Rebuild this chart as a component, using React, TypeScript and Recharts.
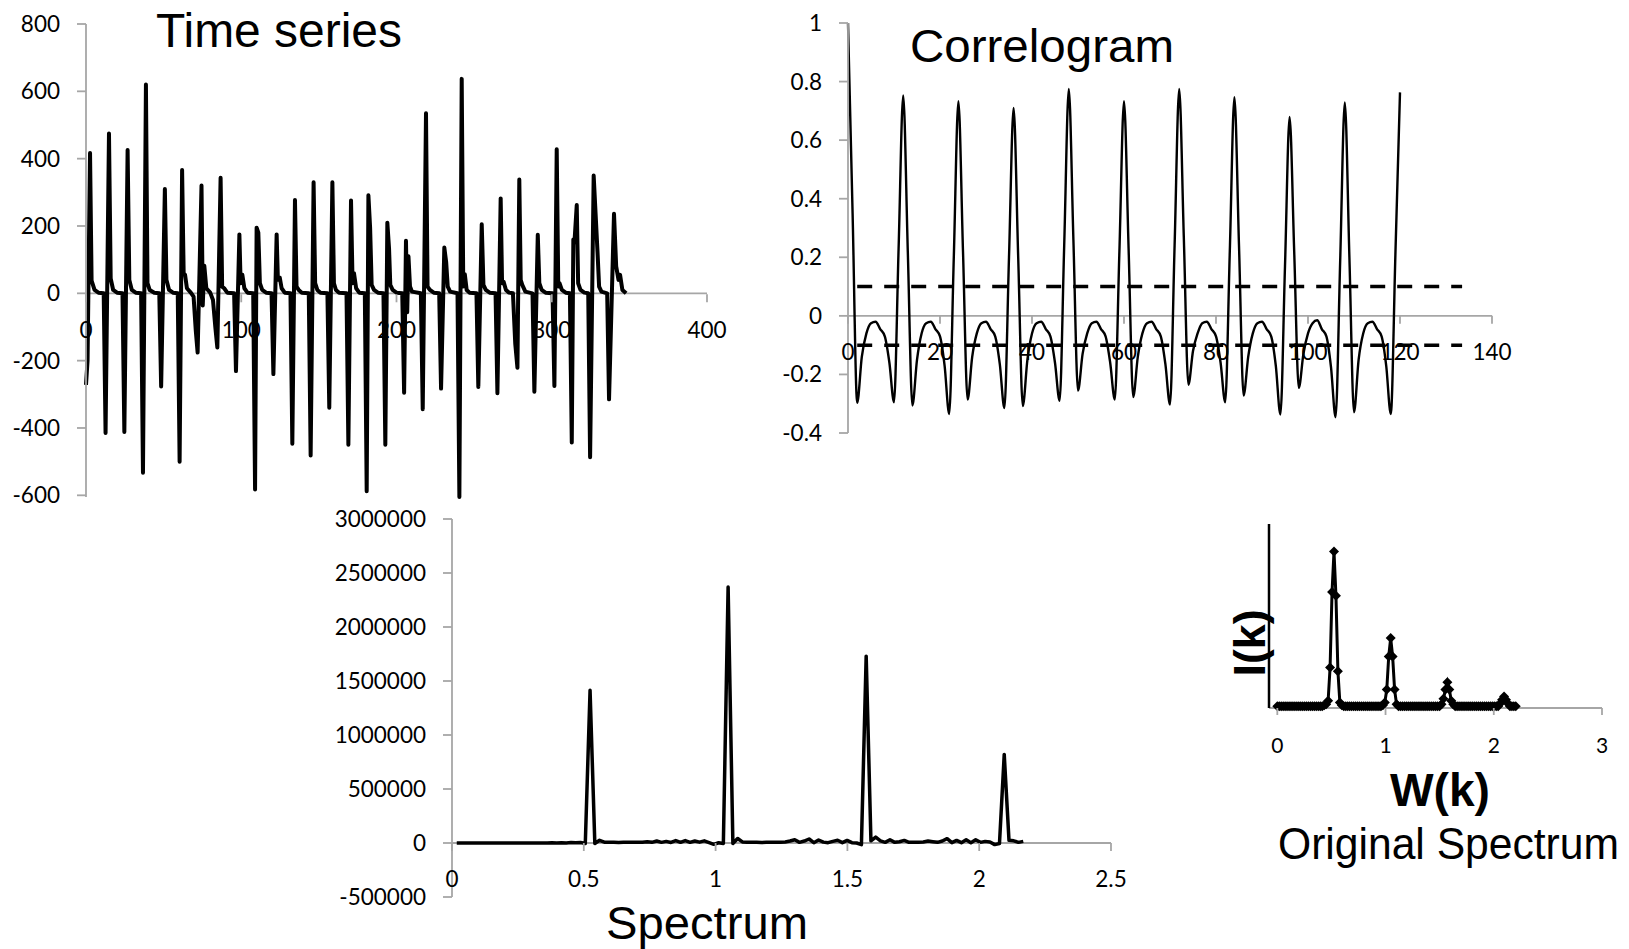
import React from 'react'
import { Line, LineChart, ReferenceLine, XAxis, YAxis } from 'recharts'

// time series, [t, value] turning points
const seriesPoints: [number, number][] = [
  [0, -272], [1, -200], [2.6, 417], [3.6, 38], [5.5, 10], [8, 2], [11.4, 0],
  [12.6, -415], [14.8, 475], [15.9, 44], [17.5, 10], [20, 2], [23.5, 0],
  [24.7, -412], [26.8, 426], [27.9, 40], [29.5, 10], [32, 2], [35.5, 0],
  [36.7, -533], [38.6, 620], [39.6, 30], [41, 10], [44, 2], [47.2, 0],
  [48.4, -277], [50.8, 310], [51.8, 40], [53.5, 10], [56, 2], [59.1, 0],
  [60.3, -500], [61.9, 366], [62.9, 60], [63.8, 55], [65, 15], [67.5, 2], [69.3, -10],
  [70.7, -110], [71.9, -176], [74.4, 320], [75.2, -36], [76.2, 82], [77.5, 15], [80, 2], [81.8, -20],
  [83.3, -100], [84.6, -161], [86.7, 343], [87.7, 20], [89, 15], [91, 2], [95.4, 0],
  [96.6, -231], [98.8, 175], [99.6, 30], [100.7, 55], [102, 15], [104, 2], [107.7, 0],
  [108.9, -583], [109.9, 195], [111, 180], [112, 30], [113.5, 10], [116, 2], [119.5, 0],
  [120.7, -240], [122.8, 175], [123.6, 40], [124.8, 47], [126, 15], [128, 2], [131.7, 0],
  [132.9, -447], [134.6, 277], [135.6, 20], [137, 10], [139, 2], [143.5, 0],
  [144.7, -482], [146.6, 330], [147.6, 30], [149, 10], [151, 2], [155.5, 0],
  [156.7, -340], [158.7, 330], [159.7, 30], [161, 10], [163, 2], [167.8, 0],
  [169, -450], [170.7, 276], [171.7, 30], [172.6, 60], [174, 15], [176, 2], [179.6, 0],
  [180.8, -588], [181.9, 291], [183, 195], [184, 25], [185.5, 10], [188, 2], [191.6, 0],
  [192.8, -450], [194.1, 210], [195.2, 133], [196, 25], [197.5, 10], [200, 2], [203.7, 0],
  [204.9, -295], [206.1, 156], [206.9, -56], [207.7, 110], [208.7, 20], [210, 5], [215.7, 0],
  [216.9, -344], [219, 535], [220, 20], [221.5, 10], [224, 2], [227.5, 0],
  [228.7, -283], [230.8, 136], [232, 92], [233, 20], [234.5, 5], [239.3, 0],
  [240.5, -605], [242, 637], [243, 20], [244, 57], [245.2, 10], [247, 2], [251.5, 0],
  [252.7, -278], [254.9, 205], [256, 25], [257.5, 10], [260, 2], [263.8, 0],
  [265, -297], [267.1, 282], [268, 30], [269, 34], [270.5, 10], [272.5, 2], [275, 0],
  [276.5, -150], [277.9, -221], [279.1, 338], [280, 40], [281, 25], [283, 5], [287.6, 0],
  [288.8, -292], [291, 174], [292, 30], [293.5, 10], [296, 2], [300.5, 0],
  [301.7, -275], [303.2, 428], [304.2, 20], [305, 30], [306.5, 10], [309, 2], [311.7, 0],
  [312.9, -443], [313.9, 160], [314.6, 150], [316.1, 262], [317, 30], [318.5, 10], [321, 2], [323.5, 0],
  [324.7, -487], [327, 350], [329.5, 121], [330.5, 20], [332, 5], [335.7, 0],
  [336.9, -315], [340.1, 236], [341.5, 80], [343, 40], [344, 55], [345.5, 10], [347.9, 0],
]

// correlogram, lag 0..120
const acf = [
  1, 0.35, -0.297, -0.14, -0.06, -0.025, -0.02, -0.045, -0.07, -0.16, -0.295, 0.23,
  0.753, 0.22, -0.306, -0.15, -0.06, -0.025, -0.02, -0.045, -0.07, -0.17, -0.335, 0.2,
  0.733, 0.22, -0.286, -0.14, -0.06, -0.025, -0.02, -0.045, -0.07, -0.165, -0.315, 0.2,
  0.71, 0.2, -0.308, -0.15, -0.06, -0.025, -0.02, -0.045, -0.07, -0.16, -0.29, 0.24,
  0.775, 0.26, -0.255, -0.13, -0.06, -0.025, -0.02, -0.045, -0.07, -0.16, -0.286, 0.22,
  0.733, 0.23, -0.277, -0.14, -0.06, -0.025, -0.02, -0.045, -0.07, -0.165, -0.303, 0.24,
  0.775, 0.27, -0.235, -0.12, -0.06, -0.025, -0.02, -0.045, -0.07, -0.16, -0.295, 0.22,
  0.747, 0.24, -0.272, -0.14, -0.06, -0.025, -0.02, -0.045, -0.07, -0.17, -0.337, 0.17,
  0.679, 0.22, -0.246, -0.13, -0.06, -0.025, -0.015, -0.045, -0.07, -0.175, -0.346, 0.19,
  0.729, 0.2, -0.329, -0.15, -0.06, -0.025, -0.02, -0.045, -0.07, -0.17, -0.335, 0.21,
  0.763,
]
const bandLags = [2, 133.5]
const bandLevel = 0.1

// Fourier frequency spacing (2*pi/348)
const FREQ_STEP = 0.01806

// spectrum, k = 1..120, in thousands
const spectrumK = [
  0, 0, 0, 0, 0, 0, 0, 0, 0, 0,
  0, 0, 0, 0, 0, 0, 0, 0, 0, 0,
  2, 1, 3, 1, 4, 2, 5, -5, 1415, -5,
  25, 8, 6, 6, 5, 6, 6, 8, 6, 8,
  12, 6, 18, 6, 15, 5, 22, 6, 22, 6,
  18, 8, 20, 4, -12, 2, -5, 2370, -5, 42,
  10, 6, 6, 6, 5, 6, 6, 6, 8, 10,
  18, 30, 6, 18, 37, 3, 28, 8, 3, 15,
  25, 3, 24, 3, 0, -15, 1730, 20, 55, 20,
  6, 30, 6, 12, 24, 6, 6, 8, 10, 18,
  12, 6, 18, 40, 3, 24, 3, 30, 3, 30,
  6, 15, 10, -15, -5, 820, 25, 20, 6, 15,
]

// original spectrum, k = 0..122
const originalPower = [
  1, 1, 1, 1, 1, 1, 1, 1, 1, 1,
  1, 1, 1, 1, 1, 1, 1, 1, 1, 1,
  1, 1, 1, 1, 1.5, 2, 4, 22, 63, 85,
  61, 20, 3, 1.5, 1, 1, 1, 1, 1, 1,
  1, 1, 1, 1, 1, 1, 1, 1, 1, 1,
  1, 1, 1, 1, 1.5, 3, 10, 28, 38, 28,
  10, 2, 1, 1, 1, 1, 1, 1, 1, 1,
  1, 1, 1, 1, 1, 1, 1, 1, 1, 1,
  1, 1, 1, 1, 2, 5, 10, 14, 10, 4,
  2, 1, 1, 1, 1, 1, 1, 1, 1, 1,
  1, 1, 1, 1, 1, 1, 1, 1, 1, 1,
  1, 1, 1, 1, 2.5, 4.5, 6.2, 4.5, 2.5, 1,
  1, 1, 1,
]

const tsXTicks = [0, 100, 200, 300, 400]
const tsYTicks = [-600, -400, -200, 0, 200, 400, 600, 800]
const acfXTicks = [0, 20, 40, 60, 80, 100, 120, 140]
const acfYTicks = [-0.4, -0.2, 0, 0.2, 0.4, 0.6, 0.8, 1]
const specXTicks = [0, 0.5, 1, 1.5, 2, 2.5]
const specYTicks = [-500000, 0, 500000, 1000000, 1500000, 2000000, 2500000, 3000000]
const origXTicks = [0, 1, 2, 3]

const tsData = seriesPoints.map(([x, y]) => ({ x, y }))
const acfData = acf.map((y, lag) => ({ x: lag, y }))
const upperBand = bandLags.map((x) => ({ x, y: bandLevel }))
const lowerBand = bandLags.map((x) => ({ x, y: -bandLevel }))
const spectrumData = spectrumK.map((v, i) => ({ x: (i + 1) * FREQ_STEP, y: v * 1000 }))
const originalData = originalPower.map((y, k) => ({ x: k * FREQ_STEP, y }))

const GREY = '#A6A6A6'
const TICK_FONT = 'Lato, "Open Sans", sans-serif'
const TITLE_FONT = '"Liberation Sans", Arial, sans-serif'

// x ticks drawn on the zero line instead of the bottom of the plot
const crossingTick = (shift: number, labelDy: number, fontSize: number, tickLen = 8) => (props: any) => {
  const { x, y, payload } = props
  const y0 = y - shift
  return (
    <g>
      <line x1={x} x2={x} y1={y0} y2={y0 + tickLen} stroke={GREY} strokeWidth={1.8} />
      <text x={x} y={y0 + labelDy} textAnchor="middle" fontFamily={TICK_FONT} fontSize={fontSize} fill="#000">
        {payload.value}
      </text>
    </g>
  )
}

const yTickStyle = { fontFamily: TICK_FONT, fontSize: 22.5, fill: '#000' }
const greyLine = { stroke: GREY, strokeWidth: 1.8 }

const diamond = (p: any) => {
  const { cx, cy, index } = p
  const r = 5
  return <path key={`dm-${index}`} d={`M${cx},${cy - r}L${cx + r},${cy}L${cx},${cy + r}L${cx - r},${cy}Z`} fill="#000" />
}

const at = (left: number, top: number): React.CSSProperties => ({ position: 'absolute', left, top })

export default function App() {
  // plot heights, used to put the x ticks on the zero line
  const tsShift = 473 * (600 / 1400)
  const acfShift = 410 * (0.4 / 1.4)
  const specShift = 378 * (500000 / 3500000)

  return (
    <div style={{ position: 'absolute', left: 0, top: 0, width: 1629, height: 949, background: '#fff', overflow: 'hidden' }}>
      <div style={at(0, 0)}>
        <LineChart width={740} height={540} data={tsData} margin={{ top: 24, right: 33, bottom: 0, left: 0 }}>
          <ReferenceLine y={0} stroke={GREY} strokeWidth={1.8} />
          <XAxis dataKey="x" type="number" domain={[0, 400]} ticks={tsXTicks} interval={0} height={43}
            axisLine={false} tickLine={false} tickSize={0} tickMargin={0} tick={crossingTick(tsShift, 44, 22.5)} />
          <YAxis type="number" domain={[-600, 800]} ticks={tsYTicks} interval={0} width={86}
            axisLine={greyLine} tickLine={greyLine} tickSize={9} tickMargin={17} tick={yTickStyle} />
          <Line dataKey="y" type="linear" stroke="#000" strokeWidth={4} dot={false} activeDot={false}
            strokeLinejoin="round" isAnimationActive={false} />
        </LineChart>
      </div>

      <div style={at(760, 0)}>
        <LineChart width={780} height={480} data={acfData} margin={{ top: 23, right: 48, bottom: 0, left: 0 }}>
          <ReferenceLine y={0} stroke={GREY} strokeWidth={1.8} />
          <XAxis dataKey="x" type="number" domain={[0, 140]} ticks={acfXTicks} interval={0} height={47}
            axisLine={false} tickLine={false} tickSize={0} tickMargin={0} tick={crossingTick(acfShift, 44, 22.5)} />
          <YAxis type="number" domain={[-0.4, 1]} ticks={acfYTicks} interval={0} width={88}
            axisLine={greyLine} tickLine={greyLine} tickSize={9} tickMargin={17} tick={yTickStyle} />
          <Line dataKey="y" type="monotone" stroke="#000" strokeWidth={2.4} dot={false} activeDot={false}
            isAnimationActive={false} />
          <Line data={upperBand} dataKey="y" type="linear" stroke="#000" strokeWidth={3.5} strokeDasharray="15 12"
            dot={false} activeDot={false} isAnimationActive={false} />
          <Line data={lowerBand} dataKey="y" type="linear" stroke="#000" strokeWidth={3.5} strokeDasharray="15 12"
            dot={false} activeDot={false} isAnimationActive={false} />
        </LineChart>
      </div>

      <div style={at(300, 490)}>
        <LineChart width={840} height={459} data={spectrumData} margin={{ top: 29, right: 29, bottom: 0, left: 0 }}>
          <ReferenceLine y={0} stroke={GREY} strokeWidth={1.8} />
          <XAxis dataKey="x" type="number" domain={[0, 2.5]} ticks={specXTicks} interval={0} height={52}
            axisLine={false} tickLine={false} tickSize={0} tickMargin={0} tick={crossingTick(specShift, 44, 22.5)} />
          <YAxis type="number" domain={[-500000, 3000000]} ticks={specYTicks} interval={0} width={152}
            axisLine={greyLine} tickLine={greyLine} tickSize={9} tickMargin={17} tick={yTickStyle} />
          <Line dataKey="y" type="linear" stroke="#000" strokeWidth={3.5} dot={false} activeDot={false}
            strokeLinejoin="round" isAnimationActive={false} />
        </LineChart>
      </div>

      <div style={at(1200, 500)}>
        <LineChart width={429} height={280} data={originalData} margin={{ top: 24, right: 27, bottom: 0, left: 0 }}>
          <XAxis dataKey="x" type="number" domain={[-0.0768, 3]} ticks={origXTicks} interval={0} height={72}
            axisLine={greyLine} tickLine={false} tickSize={0} tickMargin={0} tick={crossingTick(0, 45, 21, 7)} />
          <YAxis type="number" domain={[0, 100]} width={69} tick={false} tickLine={false}
            axisLine={{ stroke: '#000', strokeWidth: 2.5 }} />
          <Line dataKey="y" type="linear" stroke="#000" strokeWidth={3} dot={diamond} activeDot={false}
            isAnimationActive={false} />
        </LineChart>
      </div>

      <svg width={1629} height={949} style={{ position: 'absolute', left: 0, top: 0, pointerEvents: 'none' }}>
        <g fontFamily={TITLE_FONT} fill="#000">
          <text x={156} y={47} fontSize={48} textLength={246} lengthAdjust="spacingAndGlyphs">Time series</text>
          <text x={910} y={62} fontSize={47} textLength={264} lengthAdjust="spacingAndGlyphs">Correlogram</text>
          <text x={606} y={939} fontSize={47} textLength={202} lengthAdjust="spacingAndGlyphs">Spectrum</text>
          <text x={1390} y={806} fontSize={46} fontWeight="bold" textLength={100} lengthAdjust="spacingAndGlyphs">W(k)</text>
          <text x={1278} y={859} fontSize={44} textLength={341} lengthAdjust="spacingAndGlyphs">Original Spectrum</text>
          <text transform="translate(1265,643) rotate(-90)" textAnchor="middle" fontSize={45} fontWeight="bold"
            textLength={67} lengthAdjust="spacingAndGlyphs">I(k)</text>
        </g>
      </svg>
    </div>
  )
}
